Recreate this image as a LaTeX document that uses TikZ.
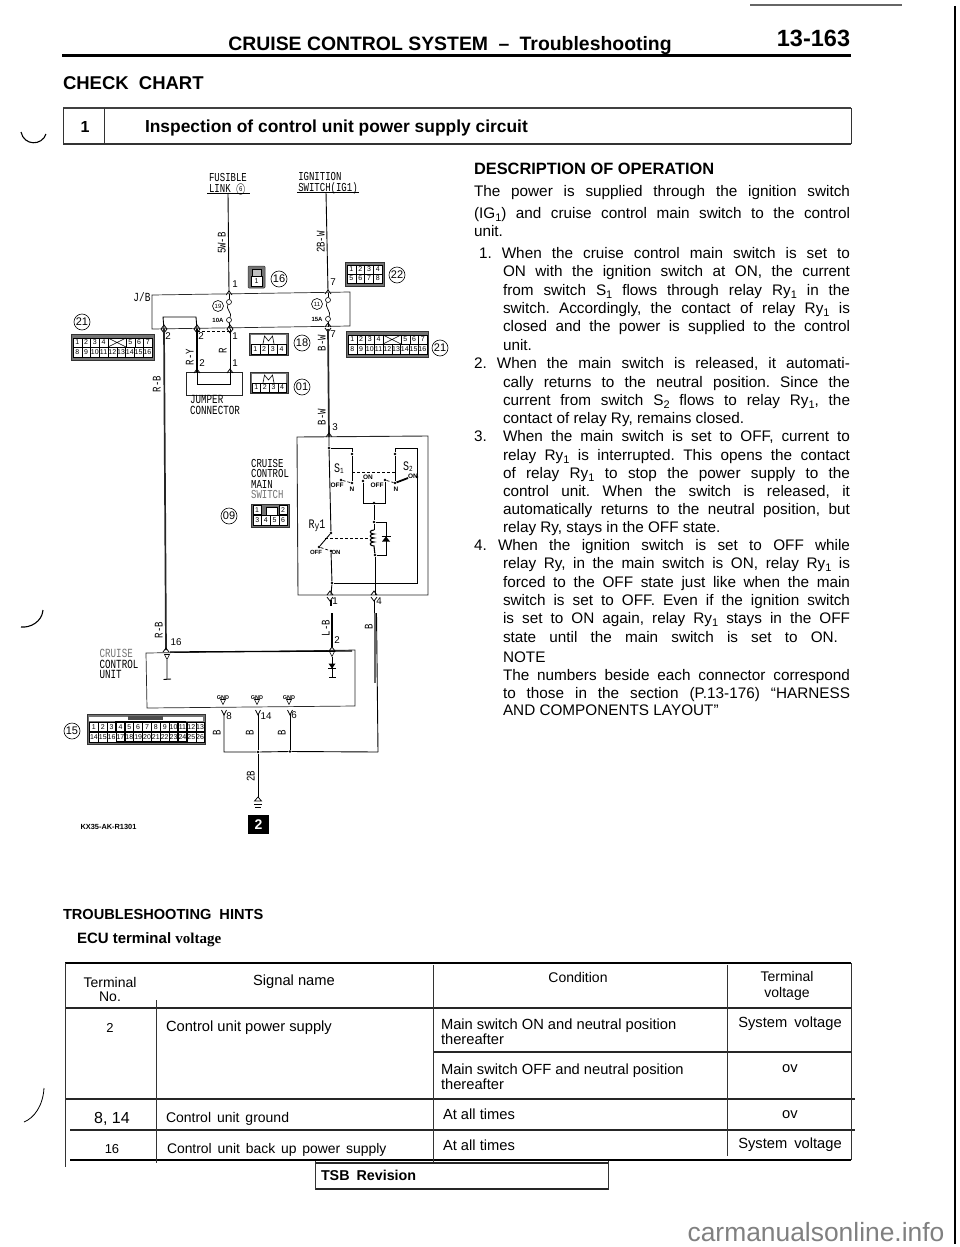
\documentclass[tikz,border=0pt]{standalone}
\usepackage{fontspec}
\setmainfont{Liberation Sans}
\newfontfamily\wf{Liberation Mono}
\newfontfamily\srf{Liberation Serif}
\newcounter{tn}
\frenchspacing
\tikzset{
  lbl/.style={inner sep=0pt,outer sep=0pt,anchor=mid},
  lft/.style={inner sep=0pt,outer sep=0pt,anchor=mid west},
  wire/.style={line width=0.9pt,black},
  hwire/.style={line width=1.7pt,black!85},
  boxline/.style={line width=0.7pt,black!85},
  dashd/.style={line width=0.7pt,dash pattern=on 3pt off 2pt},
  conbox/.style={fill=black!55,draw=black!80,line width=0.5pt},
  cellbox/.style={draw=black,fill=white,line width=0.4pt,inner sep=0pt,outer sep=0pt,font=\fontsize{7}{7}\selectfont},
  cellboxb/.style={cellbox,line width=1.3pt},
  circ/.style={circle,draw=black,line width=0.6pt,inner sep=0pt,fill=white},
  dotm/.style={circle,fill=black,inner sep=0pt,minimum size=2.8pt},
  ringm/.style={circle,draw=black,fill=white,line width=0.6pt,inner sep=0pt,minimum size=5pt},
  thinrule/.style={line width=0.8pt,black!80},
  Thickrule/.style={line width=1.5pt,black!85},
  monoblock/.style={inner sep=0pt,outer sep=0pt,anchor=center}
}
% text helpers
\newcommand{\Tc}[3]{\stepcounter{tn}\node[lbl] (t\thetn) at (#1,#2) {#3};}
\newcommand{\Tl}[3]{\stepcounter{tn}\node[lft] (t\thetn) at (#1,#2) {#3};}
\newcommand{\Tj}[4]{\stepcounter{tn}\node[lft] (t\thetn) at (#1,#2) {\makebox[#3pt][s]{#4}};}
\newcommand{\Tr}[3]{\stepcounter{tn}\node[lbl,rotate=90] (t\thetn) at (#1,#2) {\scalebox{1}[1.3]{\fontsize{9}{9}\selectfont\wf #3}};}
\newcommand{\Pn}[3]{\stepcounter{tn}\node[lbl] (t\thetn) at (#1,#2) {\fontsize{9.8}{9.8}\selectfont #3};}
\newcommand{\Cc}[5]{\stepcounter{tn}\node[circ,minimum size=#1*2pt,font=\fontsize{#4}{#4}\selectfont] (t\thetn) at (#2,#3) {#5};}
\newcommand{\subn}[1]{\raisebox{-2.4pt}{\fontsize{11}{11}\selectfont #1}}
% tall mono text block
\newcommand{\Mono}[5]{\node[monoblock] (#1) at (#2,#3) {\scalebox{1}[1.35]{\fontsize{#4}{5.9}\selectfont\wf\begin{tabular}{@{}l@{}}#5\end{tabular}}};}
% pins: upward caret above, v below
\newcommand{\capr}[2]{\draw[line width=0.8pt] ({#1-3},{#2+3})--(#1,{#2-1})--({#1+3},{#2+3});}
\newcommand{\veep}[2]{\draw[line width=0.8pt] ({#1-3},{#2-3})--(#1,{#2+1})--({#1+3},{#2-3});}
\newcommand{\trig}[2]{\draw[line width=0.6pt] ({#1-2.5},{#2-2.5})--({#1+2.5},{#2-2.5})--(#1,{#2+2.5})--cycle;}
% connector cell rows:  name, x0, yc, cw, ch, list
\newcommand{\cells}[6]{\foreach \t [count=\i] in {#6}{\node[cellbox,minimum width=#4pt,minimum height=#5pt] (#1-\i) at ({#2+(\i-0.5)*#4},#3) {\t};}}
\newcommand{\cellsb}[6]{\foreach \t [count=\i] in {#6}{\node[cellboxb,minimum width=#4pt,minimum height=#5pt] (#1-\i) at ({#2+(\i-0.5)*#4},#3) {\t};}}
\begin{document}
\begin{tikzpicture}[x=1pt,y=-1pt]
\useasboundingbox (0,0) rectangle (960,1247);
\fill[white] (0,0) rectangle (960,1247);

% ---------- page edge marks
\draw[line width=1.4pt,black!60] (750,5)--(902,5);
\draw[line width=2.4pt,black] (955,6)--(955,1244);
\begin{scope}[yshift=-6.5pt]
\Tc{816}{1232}{\fontsize{26.4}{26.4}\selectfont\textcolor{black!50}{carmanualsonline.info}}
\end{scope}

% ---------- header
\begin{scope}[yshift=-4.4pt]
\Tc{450}{43}{\fontsize{19.4}{19.4}\selectfont\bfseries CRUISE CONTROL SYSTEM\hspace{5pt} – \hspace{5pt}Troubleshooting}
\end{scope}
\begin{scope}[yshift=-5.9pt]
\Tc{813.5}{38}{\fontsize{23.5}{23.5}\selectfont\bfseries 13-163}
\end{scope}
\draw[line width=3pt] (62,56)--(851,56);
\begin{scope}[yshift=-4pt]
\Tl{63}{83}{\fontsize{18.5}{18.5}\selectfont\bfseries CHECK\hspace{5pt} CHART}
\end{scope}
\draw[line width=1.5pt,black!75] (63,108)--(851,108);
\draw[line width=1.5pt,black!80] (63,144)--(851,144);
\draw[thinrule] (851,108)--(851,144) (104,108)--(104,144) (63,108)--(63,144);
\begin{scope}[yshift=-3.6pt]
\Tc{85}{126}{\fontsize{16}{16}\selectfont\bfseries 1}
\Tl{145}{126}{\fontsize{17.4}{17.4}\selectfont\bfseries Inspection of control unit power supply circuit}
\end{scope}
% punch hole traces
\draw[line width=1.1pt] (21,132) .. controls (24,146) and (42,146) .. (46,134);
\draw[line width=1.1pt] (21,627) .. controls (30,628) and (42,622) .. (43,610);
\draw[line width=0.8pt] (24,1122) .. controls (34,1118) and (43,1106) .. (44,1088);

% ---------- top labels
\Mono{fl}{228}{184}{9}{FUSIBLE\\LINK \textcircled{\fontsize{5.5}{5.5}\selectfont 6}}
\Mono{ig}{328}{183}{9}{IGNITION\\SWITCH(IG1)}
\draw[wire] (207,193.5)--(250,193.5) (297,192)--(359,192);
\coordinate (flw) at (228,193); \coordinate (igw) at (326,192);
\coordinate (jb1) at (229,292); \coordinate (jb7) at (328,291);
\draw[wire] (flw)--(jb1); \draw[wire] (igw)--(jb7);
\Tr{223}{243}{5W-B}
\Tr{322}{242}{2B-W}
\Pn{235}{285}{1}\Pn{333}{283}{7}
\capr{229}{292}\capr{328}{291}

% ---------- J/B
\draw[boxline] (152,295)--(350,292)--(350,326)--(152,329)--cycle;
\Tc{142}{299}{\scalebox{1}[1.3]{\fontsize{9.5}{9.5}\selectfont\wf J/B}}
\node[ringm] (fa) at (229,302) {};\node[ringm] (fb) at (229,320) {};
\node[ringm] (fc) at (328,300) {};\node[ringm] (fd) at (328,319) {};
\draw[wire] (229,294)--(fa); \draw[wire] (fb)--(230,329);
\draw[wire] (328,293)--(fc); \draw[wire] (fd)--(328,327);
\draw[line width=0.7pt] (fa) .. controls (225.5,309) and (232.5,313) .. (fb);
\draw[line width=0.7pt] (fc) .. controls (324.5,307) and (331.5,312) .. (fd);
\Cc{5.5}{218}{306}{6}{19}
\Cc{5.5}{317}{304}{6}{11}
\Tc{218}{320}{\fontsize{6}{6}\selectfont\bfseries 10A}
\Tc{317}{319}{\fontsize{6}{6}\selectfont\bfseries 15A}
\coordinate (ja) at (164,329);\coordinate (jc) at (197,329);
\draw[wire] (ja)--(163,317)--(196,317)--(jc);
\capr{164}{326}\capr{197}{326}\capr{230}{326}\capr{328}{324}
\veep{164}{332}\veep{197}{332}\veep{230}{332}\veep{328}{331}

% ---------- connectors top
\draw[conbox,rounded corners=1pt] (248,266) rectangle (265,288);
\fill[black!25] (252,269) rectangle (261,276);\draw[line width=0.4pt] (252,269) rectangle (261,276);
\cells{c16}{251}{281}{11}{10}{1}
\Cc{8}{279}{279}{11}{16}
\draw[conbox] (345,262) rectangle (384,286);
\cells{c22a}{347}{269.5}{8.8}{9.5}{1,2,3,4}
\cells{c22b}{347}{278.5}{8.8}{9.5}{5,6,7,8}
\Cc{8}{397}{275}{11}{22}

\draw[conbox] (71,334) rectangle (154,360);
\cells{c21a}{73}{342.5}{8.75}{9}{1,2,3,4}
\node[cellbox,minimum width=18pt,minimum height=9pt] (x21a) at (117,342.5) {};
\draw[line width=0.5pt] (x21a.north west)--(x21a.south east) (x21a.north east)--(x21a.south west);
\cells{c21b}{126}{342.5}{8.75}{9}{5,6,7}
\cells{c21c}{73}{352}{8.75}{10}{8,9,10,11,12,13,14,15,16}
\Cc{8}{82}{322}{11}{21}

\draw[conbox] (346,331) rectangle (428,357);
\cells{c21d}{348}{339.5}{8.75}{9}{1,2,3,4}
\node[cellbox,minimum width=18pt,minimum height=9pt] (x21b) at (392,339.5) {};
\draw[line width=0.5pt] (x21b.north west)--(x21b.south east) (x21b.north east)--(x21b.south west);
\cells{c21e}{401}{339.5}{8.75}{9}{5,6,7}
\cells{c21f}{348}{349}{8.75}{10}{8,9,10,11,12,13,14,15,16}
\Cc{8}{440}{348}{11}{21}

\draw[conbox] (249,333) rectangle (288,355);
\fill[white] (251,335) rectangle (286,344);
\draw[line width=0.6pt] (263,344)--(264.5,336)--(268.5,341)--(272.5,336)--(274,344);
\cells{c18}{251}{349}{8.75}{9.5}{1,2,3,4}
\Cc{8}{302}{343}{11}{18}
\draw[conbox] (250,372) rectangle (288,393);
\fill[white] (252,374) rectangle (286,383);
\draw[line width=0.6pt] (263,383)--(264.5,375)--(268.5,380)--(272.5,375)--(274,383);
\cells{c01}{252}{387.5}{8.6}{9.5}{1,2,3,4}
\Cc{8}{302}{387}{11}{01}

% ---------- jumper
\draw[dashd] (197,331)--(230,331);
\coordinate (jry) at (197,372);\coordinate (jr) at (230,372);
\draw[wire,line width=1.2pt] (jc)--(jry);
\draw[wire] (230,329)--(jr);
\draw[boxline] (186,372) rectangle (242,395);
\draw[wire] (jry)--(197,384)--(230,384)--(jr);
\capr{197}{370}\capr{230}{370}
\Tr{191}{357}{R-Y}\Tr{224}{351}{R}
\Pn{168}{337}{2}\Pn{201}{337}{2}\Pn{235}{337}{1}\Pn{202}{364}{2}\Pn{235}{364}{1}\Pn{333}{335}{7}
\Mono{jmp}{215}{406}{9.2}{JUMPER\\CONNECTOR}

% ---------- R-B and B-W
\coordinate (cu16) at (166,650);
\draw[hwire] (ja)--(cu16);
\Tr{158}{384}{R-B}\Tr{160}{630}{R-B}
\coordinate (sw3) at (329,437);
\draw[hwire] (328,329)--(sw3);
\Tr{323}{343}{B-W}\Tr{323}{417}{B-W}
\Pn{335}{428}{3}
\capr{329}{434}

% ---------- cruise control main switch
\Mono{ccm}{270}{480}{9}{CRUISE\\CONTROL\\MAIN\\\textcolor{black!55}{SWITCH}}
\draw[conbox] (251,504) rectangle (289,527);
\node[cellbox,minimum width=8.5pt,minimum height=9pt] (m1) at (257,510) {1};
\node[cellbox,minimum width=8.5pt,minimum height=9pt] (m2) at (283,510) {2};
\draw[line width=0.6pt,fill=white] (266,507) rectangle (277,515);
\cells{m3}{253}{520}{8.6}{10}{3,4,5,6}
\Cc{8}{229}{516}{11}{09}

\draw[boxline,line width=0.9pt] (297,437)--(428,436)--(428,595)--(298,595)--cycle;
\node[dotm] (d1) at (329,448) {};
\node[dotm] (s1t) at (352,454) {};
\node[dotm] (s1n) at (352,483) {};
\node[dotm] (s1f) at (341,480) {};
\node[dotm] (s1o) at (363,481) {};
\node[dotm] (s2f) at (385,480) {};
\node[dotm] (j2) at (374,503) {};
\node[dotm] (s2t) at (395,454) {};
\node[dotm] (s2n) at (395,483) {};
\node[dotm] (s2o) at (417,477) {};
\node[dotm] (c1) at (374,522) {};
\node[dotm] (c2) at (375,555) {};
\node[dotm] (ry) at (331,533) {};
\node[dotm] (ryb) at (319,547) {};
\node[dotm] (ryo) at (331,551) {};
\node[dotm] (d2) at (332,583) {};
\draw[wire] (sw3)--(d1)--(ry);
\draw[wire] (d1)--(352,448)--(s1t)--(s1n);
\draw[dashd] (s1f)--(s1n);
\draw[dashd] (352,472)--(395,472);
\draw[wire] (s1o)--(363,503)--(385,503)--(s2f);
\draw[wire] (j2)--(c1)--(374,530);
\draw[wire] (s2t)--(395,448)--(417,448)--(417,583)--(d2);
\draw[wire] (s2t)--(s2n);
\draw[line width=1.8pt] (s2n)--(408,478);
\draw[dashd] (s2f)--(s2n);
\draw[wire] (c1)--(386,522)--(386,555)--(c2);
\draw[wire,line width=1.1pt] (374,530) .. controls (369,530) and (369,534) .. (374,534) .. controls (369,534) and (369,538) .. (374,538) .. controls (369,538) and (369,542) .. (374,542) .. controls (369,542) and (369,546) .. (374,546) -- (c2);
\fill (382,541.5)--(390,541.5)--(386,536.5)--cycle;
\draw[line width=0.9pt] (381.5,536)--(390.5,536);
\draw[dashd] (325,538)--(369,538);
\draw[wire] (ry)--(ryb);
\draw[dashd] (ryb)--(ryo);
\coordinate (sw1) at (331,595); \coordinate (sw4) at (375,595);
\draw[wire] (ryo)--(d2)--(sw1);
\draw[wire] (c2)--(sw4);
\capr{330}{592}\capr{374}{592}
\veep{330}{600}\veep{374}{600}
\Tc{339}{470}{\scalebox{1}[1.3]{\fontsize{10}{10}\selectfont\wf S\raisebox{-1pt}{\fontsize{6}{6}\selectfont 1}}}
\Tc{408}{468}{\scalebox{1}[1.3]{\fontsize{10}{10}\selectfont\wf S\raisebox{-1pt}{\fontsize{6}{6}\selectfont 2}}}
\Tc{337}{485}{\fontsize{6.5}{6.5}\selectfont\bfseries OFF}
\Tc{368}{477}{\fontsize{6.5}{6.5}\selectfont\bfseries ON}
\Tc{377}{485}{\fontsize{6.5}{6.5}\selectfont\bfseries OFF}
\Tc{413}{476}{\fontsize{6.5}{6.5}\selectfont\bfseries ON}
\Tc{352}{489}{\fontsize{6.5}{6.5}\selectfont\bfseries N}
\Tc{396}{489}{\fontsize{6.5}{6.5}\selectfont\bfseries N}
\Tc{316}{552}{\fontsize{6}{6}\selectfont\bfseries OFF}
\Tc{336}{552}{\fontsize{6}{6}\selectfont\bfseries ON}
\Tc{317}{526}{\scalebox{1}[1.3]{\fontsize{10}{10}\selectfont\wf R\raisebox{-1pt}{\fontsize{8}{8}\selectfont y}1}}
\Pn{335}{602}{1}\Pn{379}{602}{4}

% ---------- below switch
\coordinate (lb1) at (332,613);\coordinate (lb2) at (332,647);
\draw[wire,line width=1.1pt] (331,600)--(331,606);
\draw[wire,line width=1.1pt] (lb1)--(lb2);
\Tr{327}{628}{L-B}
\Pn{337}{641}{2}
\coordinate (bb1) at (375,613);\coordinate (bb2) at (375,683);\coordinate (bb3) at (378,752);
\draw[wire] (374,600)--(374,613);
\draw[hwire,black!60] (bb1)--(bb2);
\draw[wire] (376.5,613)--(bb3);
\Tr{370}{627}{B}

% ---------- cruise control unit
\draw[boxline] (146,653)--(355,650)--(355,706)--(147,708)--cycle;
\draw[line width=1.3pt] (170,652)--(352,651);
\Mono{ccu}{119}{665}{9.2}{\textcolor{black!55}{CRUISE}\\CONTROL\\UNIT}
\capr{166}{649}\capr{332}{648}
\trig{167}{657}\trig{332}{654}
\draw[wire] (167,660)--(167,679) (163.5,679.5)--(171,679);
\draw[wire] (332,657)--(332,677) (329,677)--(336,677);
\fill (328.5,663.5)--(335.5,663.5)--(332,668.5)--cycle;
\draw[line width=0.9pt] (328,668.5)--(336,668.5);
\Pn{176}{643}{16}
\foreach \x/\l in {223/a,257/b,289/c}{
  \node[lbl,font=\fontsize{5.5}{5.5}\selectfont\bfseries] (gnd\l) at (\x,696.5) {GND};
  \trig{\x}{702}
}
\coordinate (p8) at (224,714);\coordinate (p14) at (258,714);\coordinate (p6) at (290,714);
\foreach \x in {224,258,290}{\draw[line width=0.8pt] ({\x-2.5},710)--(\x,715)--({\x+2.5},710);}
\Pn{229}{717}{8}\Pn{266}{717}{14}\Pn{294}{716}{6}
\Tr{218}{733}{B}\Tr{251}{733}{B}\Tr{283}{733}{B}
\node[dotm] (n1) at (258,752) {};\node[dotm] (n2) at (290,751.5) {};
\draw[wire] (p8)--(224,752)--(n1)--(n2)--(bb3);
\draw[wire] (p14)--(n1);\draw[wire] (p6)--(n2);
\coordinate (gn) at (258,798);
\draw[wire] (n1)--(gn);
\Tr{252}{776}{2B}
\draw[line width=0.7pt] (258,797) -- (254.5,801) -- (261.5,801) -- cycle;
\draw[line width=0.7pt] (254,804)--(262,804) (255,807.5)--(261,807.5);
\node[fill=black,text=white,minimum width=21pt,minimum height=19pt,inner sep=0pt,font=\fontsize{14}{14}\selectfont\bfseries] (box2) at (258.5,824.5) {2};
\Tc{108.5}{827}{\fontsize{7.4}{7.4}\selectfont\bfseries KX35-AK-R1301}

% ---------- connector 15
\draw[conbox] (87,714) rectangle (205,744);
\fill[white] (89,717) rectangle (203,721);
\fill[black] (115,721) rectangle (186,743);
\fill[black!70] (128,716) rectangle (163,719.5);
\cells{c15a}{89.5}{727}{8.85}{9}{1,2,3}
\cellsb{c15b}{116.05}{727}{8.85}{9}{4,5,6,7,8,9,10,11}
\cellsb{c15d}{116.05}{737}{8.85}{10}{17,18,19,20,21,22,23,24}
\cells{c15c}{186.85}{727}{8.85}{9}{12,13}
\cells{c15e}{89.5}{737}{8.85}{10}{14,15,16}
\cells{c15f}{186.85}{737}{8.85}{10}{25,26}
\Cc{8}{72}{731}{11}{15}

% ---------- description
\begin{scope}[yshift=-3.4pt]
\Tl{474}{168}{\fontsize{16.4}{16.4}\selectfont\bfseries DESCRIPTION OF OPERATION}
\end{scope}
\begin{scope}[yshift=-3pt,every node/.append style={font=\fontsize{15.3}{15.3}\selectfont}]
\Tj{474}{191}{376}{The power is supplied through the ignition switch}
\Tj{474}{213}{376}{(IG\subn{1}) and cruise control main switch to the control}
\Tl{474}{231}{unit.}
\Tj{479}{253}{371}{1. When the cruise control main switch is set to}
\Tj{503}{271}{347}{ON with the ignition switch at ON, the current}
\Tj{503}{290}{347}{from switch S\subn{1} flows through relay Ry\subn{1} in the}
\Tj{503}{308}{347}{switch. Accordingly, the contact of relay Ry\subn{1} is}
\Tj{503}{326}{347}{closed and the power is supplied to the control}
\Tl{503}{345}{unit.}
\Tj{474}{363}{376}{2. When the main switch is released, it automati-}
\Tj{503}{382}{347}{cally returns to the neutral position. Since the}
\Tj{503}{400}{347}{current from switch S\subn{2} flows to relay Ry\subn{1}, the}
\Tl{503}{418}{contact of relay Ry, remains closed.}
\Tl{474}{436}{3.}
\Tj{503}{436}{347}{When the main switch is set to OFF, current to}
\Tj{503}{455}{347}{relay Ry\subn{1} is interrupted. This opens the contact}
\Tj{503}{473}{347}{of relay Ry\subn{1} to stop the power supply to the}
\Tj{503}{491}{347}{control unit. When the switch is released, it}
\Tj{503}{509}{347}{automatically returns to the neutral position, but}
\Tl{503}{527}{relay Ry, stays in the OFF state.}
\Tj{474}{545}{376}{4. When the ignition switch is set to OFF while}
\Tj{503}{563}{347}{relay Ry, in the main switch is ON, relay Ry\subn{1} is}
\Tj{503}{582}{347}{forced to the OFF state just like when the main}
\Tj{503}{600}{347}{switch is set to OFF. Even if the ignition switch}
\Tj{503}{618}{347}{is set to ON again, relay Ry\subn{1} stays in the OFF}
\Tj{503}{637}{335}{state until the main switch is set to ON.}
\Tl{503}{657}{NOTE}
\Tj{503}{675}{347}{The numbers beside each connector correspond}
\Tj{503}{693}{347}{to those in the section (P.13-176) “HARNESS}
\Tl{503}{710}{AND COMPONENTS LAYOUT”}
\end{scope}

% ---------- hints
\begin{scope}[yshift=-2.7pt]
\Tl{63}{914}{\fontsize{14.6}{14.6}\selectfont\bfseries TROUBLESHOOTING\hspace{4pt} HINTS}
\Tl{77}{938}{\fontsize{15}{15}\selectfont\bfseries ECU terminal {\srf voltage}}
\end{scope}

% ---------- table
\draw[line width=2pt] (65,963)--(851,963);
\draw[Thickrule] (66,1008)--(851,1008);
\draw[Thickrule] (433,1052)--(851,1052);
\draw[Thickrule] (66,1099)--(855,1099);
\draw[Thickrule] (70,1130)--(855,1130);
\draw[line width=2pt] (70,1160)--(851,1160);
\draw[thinrule] (65,963)--(65,1167);
\draw[thinrule] (156,1000)--(156,1163);
\draw[thinrule] (433,965)--(433,1163);
\draw[thinrule] (727,965)--(727,1156);
\draw[thinrule] (851,963)--(851,1160);
\begin{scope}[yshift=-2.6pt,every node/.append style={font=\fontsize{14.7}{14.7}\selectfont}]
\Tc{110}{982}{\fontsize{14}{14}\selectfont Terminal}
\Tc{110}{996}{\fontsize{14}{14}\selectfont No.}
\Tc{294}{980}{Signal name}
\Tc{578}{977}{\fontsize{14}{14}\selectfont Condition}
\Tc{787}{976}{\fontsize{14}{14}\selectfont Terminal}
\Tc{787}{992}{\fontsize{14}{14}\selectfont voltage}
\Tc{110}{1027}{\fontsize{13}{13}\selectfont 2}
\Tl{166}{1026}{Control unit power supply}
\Tl{441}{1024}{Main switch ON and neutral position}
\Tl{441}{1039}{thereafter}
\Tc{790}{1022}{System\hspace{3pt} voltage}
\Tl{441}{1069}{Main switch OFF and neutral position}
\Tl{441}{1084}{thereafter}
\Tc{790}{1067}{ov}
\Tc{112}{1118}{\fontsize{16}{16}\selectfont 8, 14}
\Tl{166}{1117}{\fontsize{14}{14}\selectfont Control\hspace{2pt} unit\hspace{2pt} ground}
\Tl{443}{1114}{At all times}
\Tc{790}{1113}{ov}
\Tc{112}{1148}{\fontsize{13}{13}\selectfont 16}
\Tl{167}{1148}{\fontsize{13.9}{13.9}\selectfont Control\hspace{2pt} unit\hspace{2pt} back\hspace{2pt} up\hspace{2pt} power\hspace{2pt} supply}
\Tl{443}{1145}{At all times}
\Tc{790}{1143}{System\hspace{3pt} voltage}
\end{scope}
\draw[Thickrule] (315,1163)--(608,1163);
\draw[Thickrule] (315,1189)--(608,1189);
\draw[thinrule] (315,1161)--(315,1190) (608,1161)--(608,1190);
\begin{scope}[yshift=-2.7pt]
\Tl{321}{1175}{\fontsize{14.3}{14.3}\selectfont\bfseries TSB\hspace{3pt} Revision}
\end{scope}
\end{tikzpicture}
\end{document}
